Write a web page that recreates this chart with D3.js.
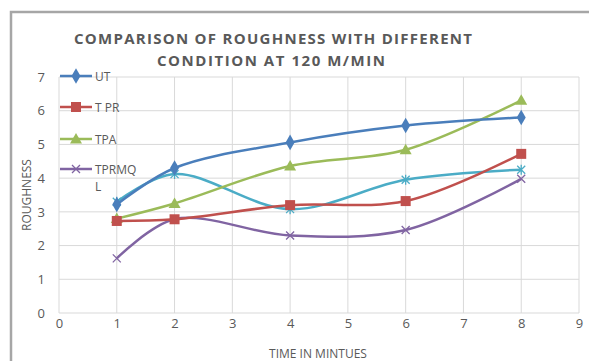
<!DOCTYPE html>
<html>
<head>
<meta charset="utf-8">
<script src="https://cdn.jsdelivr.net/npm/d3@7"></script>
<style>
  body { margin: 0; background: #fff; }
  text { font-family: "Open Sans", "Liberation Sans", sans-serif; fill: #595959; }
</style>
</head>
<body>
<svg id="chart"></svg>
<script>
// data
var times = [1, 2, 4, 6, 8];
var seriesNames = ["UT", "T PR", "TPA", "TPRMQL", "Series5"];
var utValues = [3.22, 4.3, 5.06, 5.56, 5.8];
var tprValues = [2.73, 2.78, 3.2, 3.32, 4.72];
var tpaValues = [2.8, 3.25, 4.36, 4.84, 6.31];
var tprmqlValues = [1.62, 2.78, 2.3, 2.46, 3.98];
var series5Values = [3.3, 4.12, 3.08, 3.95, 4.25];
var xTicks = [0, 1, 2, 3, 4, 5, 6, 7, 8, 9];
var yTicks = [0, 1, 2, 3, 4, 5, 6, 7];

var screen = {width: 589, height: 361};
var margins = {top: 77, bottom: 48, left: 59, right: 10};
var graph = {
    width: screen.width - margins.left - margins.right,
    height: screen.height - margins.top - margins.bottom
};

var colors = ["#4a7ebb", "#c0504d", "#9bbb59", "#8064a2", "#4bacc6"];
var markers = ["diamond", "square", "triangle", "x", "star"];

var svg = d3.select("#chart")
    .attr("width", screen.width)
    .attr("height", screen.height);

// outer chart border
svg.append("path")
    .attr("d", "M11,361 L11,12 L589,12")
    .attr("fill", "none")
    .attr("stroke", "#a6a6a6")
    .attr("stroke-width", 2.5);

var xScale = d3.scaleLinear().domain([0, 9]).range([0, graph.width]);
var yScale = d3.scaleLinear().domain([0, 7]).range([graph.height, 0]);

var g = svg.append("g")
    .attr("transform", "translate(" + margins.left + "," + margins.top + ")");

// gridlines
g.append("g").selectAll("line")
    .data(yTicks)
    .enter().append("line")
    .attr("x1", 0).attr("x2", graph.width)
    .attr("y1", function(d) { return yScale(d); })
    .attr("y2", function(d) { return yScale(d); })
    .attr("stroke", "#d9d9d9").attr("stroke-width", 1);
g.append("g").selectAll("line")
    .data(xTicks)
    .enter().append("line")
    .attr("y1", 0).attr("y2", graph.height)
    .attr("x1", function(d) { return xScale(d); })
    .attr("x2", function(d) { return xScale(d); })
    .attr("stroke", "#d9d9d9").attr("stroke-width", 1);

// axes (labels only)
var xAxis = d3.axisBottom(xScale).tickValues(xTicks).tickFormat(d3.format("d"))
    .tickSize(0).tickPadding(6);
var yAxis = d3.axisLeft(yScale).tickValues(yTicks).tickFormat(d3.format("d"))
    .tickSize(0).tickPadding(14);
var xg = g.append("g").attr("transform", "translate(0," + graph.height + ")").call(xAxis);
var yg = g.append("g").call(yAxis);
[xg, yg].forEach(function(a) {
    a.select(".domain").remove();
    a.selectAll("text").style("font-size", "13px").attr("fill", "#595959")
        .style("font-family", "'Open Sans', sans-serif");
});

var lineGen = d3.line()
    .x(function(d) { return xScale(d.t); })
    .y(function(d) { return yScale(d.v); })
    .curve(d3.curveCatmullRom.alpha(0.5));

var allValues = [utValues, tprValues, tpaValues, tprmqlValues, series5Values];
var data = allValues.map(function(vals, i) {
    return {
        name: seriesNames[i],
        color: colors[i],
        marker: markers[i],
        points: times.map(function(t, j) { return {t: t, v: vals[j]}; })
    };
});

var drawMarker = function(sel, type, color) {
    if (type === "diamond") {
        sel.append("path").attr("d", d3.symbol().type(d3.symbolDiamond).size(70)())
            .attr("fill", color);
    } else if (type === "square") {
        sel.append("rect").attr("x", -5).attr("y", -5).attr("width", 10).attr("height", 10)
            .attr("fill", color);
    } else if (type === "triangle") {
        sel.append("path").attr("d", "M0,-6 L6,4.5 L-6,4.5 Z").attr("fill", color);
    } else if (type === "x") {
        sel.append("path").attr("d", "M-4,-4 L4,4 M-4,4 L4,-4")
            .attr("stroke", color).attr("stroke-width", 1.3).attr("fill", "none");
    } else if (type === "star") {
        sel.append("path").attr("d", "M-4,-4 L4,4 M-4,4 L4,-4 M0,-5 L0,5")
            .attr("stroke", color).attr("stroke-width", 1.3).attr("fill", "none");
    }
};

// draw in reverse so UT sits on top
var seriesG = g.selectAll(".series")
    .data(data.slice().reverse())
    .enter().append("g")
    .attr("class", "series");

seriesG.append("path")
    .attr("d", function(d) { return lineGen(d.points); })
    .attr("fill", "none")
    .attr("stroke", function(d) { return d.color; })
    .attr("stroke-width", 2.5);

seriesG.each(function(d) {
    var s = d3.select(this);
    d.points.forEach(function(p) {
        var m = s.append("g")
            .attr("transform", "translate(" + xScale(p.t) + "," + yScale(p.v) + ")");
        drawMarker(m, d.marker, d.color);
    });
});

// legend (first four series only, as in the reference)
var legendY = [76, 107, 139, 169];
var legend = svg.append("g");
data.slice(0, 4).forEach(function(d, i) {
    var row = legend.append("g").attr("transform", "translate(60," + legendY[i] + ")");
    row.append("line").attr("x1", 0).attr("x2", 32)
        .attr("stroke", d.color).attr("stroke-width", 2.5);
    drawMarker(row.append("g").attr("transform", "translate(16,0)"), d.marker, d.color);
    if (d.name === "TPRMQL") {
        row.append("text").attr("x", 35).attr("y", 4.5).style("font-size", "12px").text("TPRMQ");
        row.append("text").attr("x", 35).attr("y", 22).style("font-size", "12px").text("L");
    } else {
        row.append("text").attr("x", 35).attr("y", 4.5).style("font-size", "12px").text(d.name);
    }
});

// title
var title = svg.append("g");
title.append("text")
    .attr("x", 273).attr("y", 44)
    .attr("text-anchor", "middle")
    .style("font-size", "15px").style("font-weight", "bold")
    .attr("textLength", 398).attr("lengthAdjust", "spacing")
    .text("COMPARISON OF ROUGHNESS WITH DIFFERENT");
title.append("text")
    .attr("x", 271).attr("y", 66)
    .attr("text-anchor", "middle")
    .style("font-size", "15px").style("font-weight", "bold")
    .attr("textLength", 228).attr("lengthAdjust", "spacing")
    .text("CONDITION AT 120 M/MIN");

// axis titles
svg.append("text")
    .attr("x", 318).attr("y", 358)
    .attr("text-anchor", "middle")
    .style("font-size", "12px")
    .text("TIME IN MINTUES");
svg.append("text")
    .attr("transform", "translate(31,195) rotate(-90)")
    .attr("text-anchor", "middle")
    .style("font-size", "12px")
    .text("ROUGHNESS");
</script>
</body>
</html>
